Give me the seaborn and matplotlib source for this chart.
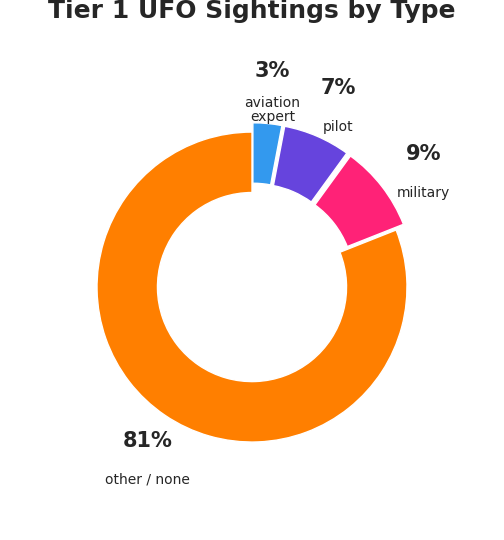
import numpy as np
import matplotlib
matplotlib.use("Agg")
import matplotlib.pyplot as plt
import seaborn as sns

sns.set_theme(style="white")
plt.rcParams['font.family'] = ['DejaVu Sans']

categories = ["aviation\nexpert", "pilot", "military", "other / none"]
values = [3, 7, 9, 81]
colors = ["#3399ee", "#6644dd", "#ff2277", "#ff7f00"]

fig = plt.figure(figsize=(5.04, 5.4), dpi=100)
ax = fig.add_axes([0, 0, 1, 1])
explode = [0.06, 0.06, 0.06, 0.0]
wedges, _ = ax.pie(values, colors=colors, startangle=90, counterclock=False,
                   explode=explode, radius=1.0,
                   wedgeprops=dict(width=0.39, edgecolor="white", linewidth=1))
ax.set_xlim(-1.626, 1.626)
ax.set_ylim(-1.632, 1.852)
ax.set_aspect("equal")
ax.axis("off")

for w, cat, v in zip(wedges, categories, values):
    ang = np.deg2rad((w.theta1 + w.theta2) / 2)
    r = 1.4 if v < 50 else 1.2
    x, y = r * np.cos(ang), r * np.sin(ang)
    ax.text(x, y, f"{v}%", ha="center", va="center", fontsize=15, fontweight="bold")
    ax.text(x, y - 0.25, cat, ha="center", va="center", fontsize=10, linespacing=1.0)

fig.text(0.5, 0.98, "Tier 1 UFO Sightings by Type", ha="center", va="center",
         fontsize=18, fontweight="bold")
fig.savefig("out.png", dpi=100)
